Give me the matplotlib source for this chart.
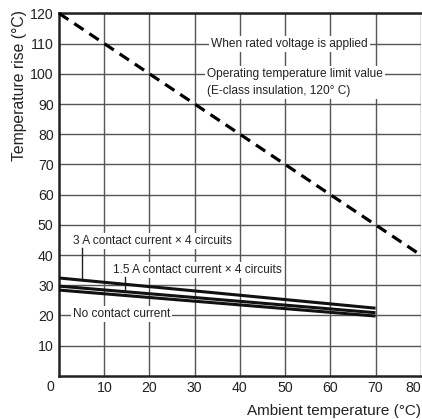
import matplotlib
matplotlib.use("Agg")
import matplotlib.pyplot as plt

plt.rcParams['font.family'] = ['Liberation Sans', 'DejaVu Sans']

# Dados
limit_x = [0, 80]
limit_y = [120, 40]          # limite de temperatura (classe E, 120 °C)

curve_x = [0, 70]
curve_3a = [32.4, 22.4]      # 3 A x 4 circuitos
curve_15a = [29.7, 20.9]     # 1.5 A x 4 circuitos
curve_none = [28.4, 19.8]    # sem corrente de contato

x_ticks = [10, 20, 30, 40, 50, 60, 70, 80]
y_ticks = [10, 20, 30, 40, 50, 60, 70, 80, 90, 100, 110, 120]

fig = plt.figure(figsize=(4.22, 4.19), dpi=100)
ax = fig.add_axes([0.140, 0.103, 0.857, 0.865])
ax.set_xlim(0, 80)
ax.set_ylim(0, 120)

# Grade
for x in x_ticks:
    ax.axvline(x, color='#555555', lw=1.0, zorder=1)
for y in y_ticks:
    ax.axhline(y, color='#555555', lw=1.0, zorder=1)

for s in ['left', 'bottom', 'top']:
    ax.spines[s].set_linewidth(1.8)
    ax.spines[s].set_color('#222222')
ax.spines['right'].set_visible(False)

ax.set_xticks(x_ticks)
ax.set_yticks(y_ticks)
ax.tick_params(length=0, labelsize=10.2, colors='#222222', pad=4)
ax.get_xticklabels()[-1].set_ha('right')
ax.get_xticklabels()[-1].set_x(80.1)
ax.text(-0.013, -0.031, "0", transform=ax.transAxes, ha='right', va='center',
        fontsize=10.2, color='#222222')

ax.set_xlabel("Ambient temperature (°C)", fontsize=11, color='#222222')
ax.xaxis.set_label_coords(1.0, -0.097)
ax.xaxis.label.set_ha('right')
ax.xaxis.label.set_va('center')
ax.set_ylabel("Temperature rise (°C)", fontsize=11.3, color='#222222')
ax.yaxis.set_label_coords(-0.11, 1.01)
ax.yaxis.label.set_va('center')
ax.yaxis.label.set_ha('right')

# Curvas
ax.plot(limit_x, limit_y, color='black', lw=2.3, dashes=(3.5, 2.2), zorder=5,
        clip_on=False)
for yy in (curve_3a, curve_15a, curve_none):
    ax.plot(curve_x, yy, color='#111111', lw=2.2, solid_capstyle='butt', zorder=5)

box = dict(facecolor='white', edgecolor='none', pad=1.5)
fs = 8.6

ax.text(33.6, 110, "When rated voltage is applied", fontsize=fs, ha='left',
        va='center', bbox=box, zorder=3, color='#222222')
ax.text(32.8, 97.1, "Operating temperature limit value\n(E-class insulation, 120° C)",
        fontsize=fs, ha='left', va='center', linespacing=1.5, bbox=box,
        zorder=3, color='#222222')

ax.text(3.0, 44.7, "3 A contact current × 4 circuits", fontsize=fs, ha='left',
        va='center', bbox=box, zorder=3, color='#222222')
ax.plot([5, 5], [42.4, 31.8], color='#222222', lw=1.0, zorder=4)

ax.text(11.9, 35.0, "1.5 A contact current × 4 circuits", fontsize=fs, ha='left',
        va='center', bbox=box, zorder=3, color='#222222')
ax.plot([14.6, 14.6], [32.8, 27.8], color='#222222', lw=1.0, zorder=4)

ax.text(3.0, 20.6, "No contact current", fontsize=fs, ha='left',
        va='center', bbox=box, zorder=3, color='#222222')

fig.savefig("out.png", dpi=100)
